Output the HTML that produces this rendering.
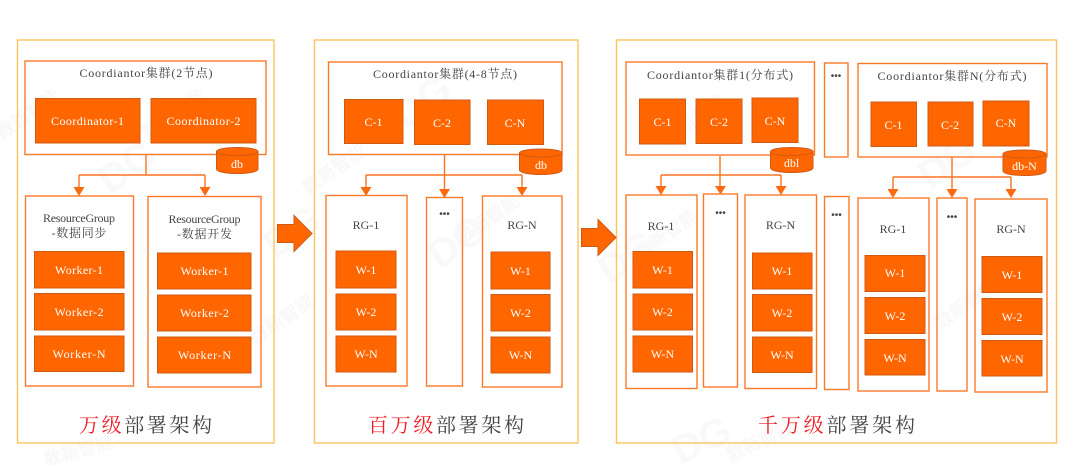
<!DOCTYPE html>
<html lang="zh"><head><meta charset="utf-8"><style>
html,body{margin:0;padding:0;background:#fff;width:1080px;height:466px;overflow:hidden}
svg{display:block}
text{font-family:"Liberation Serif","Noto Serif CJK SC",serif}
.p{fill:none;stroke:#fdc45e;stroke-width:1.4}
.b{fill:none;stroke:#fa7a28;stroke-width:1.4}
.o{fill:#ff6600;stroke:#d05a14;stroke-width:1}
.l{fill:none;stroke:#fa7420;stroke-width:1.4}
.h{fill:#fa6a10}
.t{fill:#444;font-size:12px;text-anchor:middle}
.w{fill:#fff;font-size:12px;text-anchor:middle}
.d{fill:#444;font-size:10px;text-anchor:middle;font-family:"Liberation Sans",sans-serif}
.big{font-size:20px;fill:#444}
.r{fill:#f01c24}
.wm{fill:#f8f8f8;font-size:18px;font-family:"Liberation Sans","Noto Sans CJK SC",sans-serif;font-weight:bold}
.wd{fill:#f9f9f9;font-size:40px;font-family:"Liberation Sans",sans-serif;font-weight:bold}
.cy{fill:#ff6600;stroke:#d05a14;stroke-width:1}
.ar{fill:#ff6600;stroke:#d05a14;stroke-width:1}
</style></head><body>
<svg width="1080" height="466" viewBox="0 0 1080 466" xmlns="http://www.w3.org/2000/svg">
<!-- watermarks -->
<g>
<text class="wm" transform="translate(2,140) rotate(-35)">数新智能</text>
<text class="wm" transform="translate(148,140) rotate(-35)">数新智能</text>
<text class="wm" transform="translate(308,195) rotate(-35)">数新智能</text>
<text class="wm" transform="translate(462,245) rotate(-35)">数新智能</text>
<text class="wm" transform="translate(668,145) rotate(-35)">数新智能</text>
<text class="wm" transform="translate(640,260) rotate(-35)">数新智能</text>
<text class="wm" transform="translate(256,345) rotate(-35)">数新智能</text>
<text class="wm" transform="translate(940,330) rotate(-35)">数新智能</text>
<text class="wm" transform="translate(45,466) rotate(-15)">数新智能</text>
<text class="wm" transform="translate(730,462) rotate(-25)">数新智能</text>
<text class="wd" transform="translate(110,195) rotate(-35)">DG</text>
<text class="wd" transform="translate(275,260) rotate(-35)">DG</text>
<text class="wd" transform="translate(405,130) rotate(-35)">DG</text>
<text class="wd" transform="translate(440,270) rotate(-35)">DG</text>
<text class="wd" transform="translate(610,285) rotate(-35)">DG</text>
<text class="wd" transform="translate(680,465) rotate(-25)">DG</text>
<text class="wd" transform="translate(930,190) rotate(-35)">DG</text>
</g>

<!-- panels -->
<rect class="p" x="17.5" y="40" width="256.5" height="403"/>
<rect class="p" x="314.5" y="40" width="263.5" height="403"/>
<rect class="p" x="616.5" y="40" width="440" height="403"/>

<!-- block arrows -->
<path class="ar" d="M277.5 224.5H294V215.5L312 233.5L294 251.5V242.5H277.5Z"/>
<path class="ar" d="M581.5 228.5H598V219.5L616 237.5L598 255.5V246.5H581.5Z"/>

<!-- Panel 1 -->
<rect class="b" x="25" y="61" width="241" height="93.5"/>
<text class="t" x="146" y="77" textLength="133" lengthAdjust="spacing">Coordiantor集群(2节点)</text>
<rect class="o" x="35.5" y="98.5" width="104.5" height="44.5"/>
<text class="w" x="87.5" y="125" textLength="73">Coordinator-1</text>
<rect class="o" x="151" y="98.5" width="105" height="44.5"/>
<text class="w" x="203.5" y="125" textLength="74">Coordinator-2</text>
<path class="l" d="M146 155V175M79 175H205M79 175V188M205 175V188"/>
<path class="h" d="M73.500 187H84.500L79 196ZM199.500 187H210.500L205 196Z"/>
<path class="cy" d="M216.500 151.500V169C216.500 175 258 175 258 169V151.500Z"/>
<ellipse class="cy" cx="237.250" cy="151.500" rx="20.750" ry="4"/>
<text class="w" x="237" y="168" font-size="11">db</text>
<rect class="b" x="25.500" y="196" width="108" height="190"/>
<rect class="b" x="148" y="196.500" width="113" height="190.500"/>
<text class="t" x="79" y="222" textLength="72">ResourceGroup</text>
<text class="t" x="79" y="237" textLength="55">-数据同步</text>
<text class="t" x="204.500" y="223" textLength="72">ResourceGroup</text>
<text class="t" x="204.500" y="238" textLength="55">-数据开发</text>
<rect class="o" x="34.500" y="251.500" width="89.500" height="36.500"/><text class="w" x="79" y="274" textLength="48">Worker-1</text>
<rect class="o" x="34.500" y="293.500" width="89.500" height="36.500"/><text class="w" x="79" y="316" textLength="49">Worker-2</text>
<rect class="o" x="34.500" y="336" width="89.500" height="35.500"/><text class="w" x="79" y="358" textLength="53">Worker-N</text>
<rect class="o" x="157.500" y="253" width="93.500" height="36"/><text class="w" x="204.500" y="275" textLength="48">Worker-1</text>
<rect class="o" x="157.500" y="295" width="93.500" height="36"/><text class="w" x="204.500" y="317" textLength="49">Worker-2</text>
<rect class="o" x="157.500" y="337" width="93.500" height="36"/><text class="w" x="204.500" y="359" textLength="53">Worker-N</text>
<text class="big" x="79" y="432" textLength="133"><tspan class="r">万级</tspan>部署架构</text>

<!-- Panel 2 -->
<rect class="b" x="328.500" y="62" width="233.500" height="92.500"/>
<text class="t" x="445" y="78" textLength="144">Coordiantor集群(4-8节点)</text>
<rect class="o" x="344.500" y="99.500" width="58.500" height="44"/><text class="w" x="373.500" y="126">C-1</text>
<rect class="o" x="414.500" y="100" width="55.500" height="44.500"/><text class="w" x="442" y="127">C-2</text>
<rect class="o" x="487.500" y="100" width="56" height="44.500"/><text class="w" x="515" y="127">C-N</text>
<path class="l" d="M444.500 155V189M366 175H522M366 175V188M522 175V188"/>
<path class="h" d="M360.500 187H371.500L366 196ZM439 189H450L444.500 198ZM516.500 187H527.500L522 196Z"/>
<path class="cy" d="M519.500 153V170C519.500 176 562 176 562 170V153Z"/>
<ellipse class="cy" cx="540.750" cy="153" rx="21.250" ry="4"/>
<text class="w" x="541" y="169" font-size="11">db</text>
<rect class="b" x="326" y="195.500" width="81" height="190.500"/>
<rect class="b" x="426.500" y="197.500" width="36" height="188.500"/>
<rect class="b" x="482.500" y="196" width="79.500" height="191"/>
<text class="t" x="366" y="229">RG-1</text>
<text class="d" x="444.500" y="217">•••</text>
<text class="t" x="522" y="229">RG-N</text>
<rect class="o" x="336" y="251" width="60" height="37"/><text class="w" x="366" y="274">W-1</text>
<rect class="o" x="336" y="294" width="60" height="36"/><text class="w" x="366" y="316">W-2</text>
<rect class="o" x="336" y="336" width="60" height="36"/><text class="w" x="366" y="358">W-N</text>
<rect class="o" x="491" y="252" width="59" height="37"/><text class="w" x="520.500" y="275">W-1</text>
<rect class="o" x="491" y="294.500" width="59" height="36.500"/><text class="w" x="520.500" y="317">W-2</text>
<rect class="o" x="491" y="337" width="59" height="36"/><text class="w" x="520.500" y="359">W-N</text>
<text class="big" x="368" y="432" textLength="156"><tspan class="r">百万级</tspan>部署架构</text>

<!-- Panel 3 left cluster -->
<rect class="b" x="626" y="62" width="188.500" height="93"/>
<text class="t" x="720" y="79" textLength="146">Coordiantor集群1(分布式)</text>
<rect class="o" x="639.500" y="99" width="46" height="45"/><text class="w" x="662.500" y="126">C-1</text>
<rect class="o" x="696" y="99" width="46" height="44.500"/><text class="w" x="719" y="126">C-2</text>
<rect class="o" x="752" y="98" width="46" height="44.500"/><text class="w" x="775" y="125">C-N</text>
<path class="l" d="M720 156V189M661 175H781M661 175V187M781 175V187"/>
<path class="h" d="M655.500 186H666.500L661 195ZM715 186H726L720.500 194.500ZM775.500 186H786.500L781 195Z"/>
<path class="cy" d="M770.500 151.500V168C770.500 174 813 174 813 168V151.500Z"/>
<ellipse class="cy" cx="791.750" cy="151.500" rx="21.250" ry="4"/>
<text class="w" x="791.500" y="167" font-size="10">dbl</text>

<!-- middle dots -->
<rect class="b" x="824.500" y="63" width="23.500" height="94"/>
<text class="d" x="836" y="79">•••</text>
<rect class="b" x="824.500" y="196.500" width="24.500" height="193"/>
<text class="d" x="836.500" y="218">•••</text>

<!-- Panel 3 right cluster -->
<rect class="b" x="858" y="63.500" width="189" height="93.500"/>
<text class="t" x="952" y="80" textLength="149">Coordiantor集群N(分布式)</text>
<rect class="o" x="871" y="102" width="45.500" height="44.500"/><text class="w" x="893.500" y="129">C-1</text>
<rect class="o" x="928" y="102" width="45" height="44"/><text class="w" x="950" y="129">C-2</text>
<rect class="o" x="983" y="101" width="46" height="45"/><text class="w" x="1006" y="127">C-N</text>
<path class="l" d="M952 157V191M893 177H1011M893 177V190M1011 177V190M952 177"/>
<path class="h" d="M887.500 189H898.500L893 198ZM946.500 189H957.500L952 198ZM1005.500 189H1016.500L1011 198Z"/>
<path class="cy" d="M1003 154V171C1003 177 1046 177 1046 171V154Z"/>
<ellipse class="cy" cx="1024.500" cy="154" rx="21.500" ry="4"/>
<text class="w" x="1024.500" y="170" font-size="10">db-N</text>

<!-- Panel 3 groups -->
<rect class="b" x="626" y="195" width="71" height="193.500"/>
<rect class="b" x="703.500" y="194" width="34" height="193"/>
<rect class="b" x="745" y="195" width="71.500" height="193.500"/>
<rect class="b" x="858" y="198" width="71" height="193"/>
<rect class="b" x="937" y="198" width="30" height="193"/>
<rect class="b" x="975" y="199" width="72" height="193"/>
<text class="t" x="661" y="230">RG-1</text>
<text class="d" x="720.500" y="216">•••</text>
<text class="t" x="780.500" y="229">RG-N</text>
<text class="t" x="893" y="233">RG-1</text>
<text class="d" x="952" y="220">•••</text>
<text class="t" x="1011" y="233">RG-N</text>

<rect class="o" x="633" y="251.500" width="59.500" height="36.500"/><text class="w" x="662.500" y="274">W-1</text>
<rect class="o" x="633" y="294" width="59.500" height="36"/><text class="w" x="662.500" y="316">W-2</text>
<rect class="o" x="633" y="336" width="59.500" height="36"/><text class="w" x="662.500" y="358">W-N</text>
<rect class="o" x="752.500" y="253" width="59.500" height="36"/><text class="w" x="782" y="275">W-1</text>
<rect class="o" x="752.500" y="294.500" width="59.500" height="36.500"/><text class="w" x="782" y="317">W-2</text>
<rect class="o" x="752.500" y="337" width="59.500" height="35.500"/><text class="w" x="782" y="359">W-N</text>
<rect class="o" x="865" y="255.500" width="60" height="36"/><text class="w" x="895" y="277">W-1</text>
<rect class="o" x="865" y="297.500" width="60" height="36"/><text class="w" x="895" y="320">W-2</text>
<rect class="o" x="865" y="339.500" width="60" height="35.500"/><text class="w" x="895" y="362">W-N</text>
<rect class="o" x="982" y="256.500" width="60" height="36"/><text class="w" x="1012" y="279">W-1</text>
<rect class="o" x="982" y="298.500" width="60" height="36"/><text class="w" x="1012" y="321">W-2</text>
<rect class="o" x="982" y="340.500" width="60" height="35.500"/><text class="w" x="1012" y="363">W-N</text>
<text class="big" x="758" y="432" textLength="157"><tspan class="r">千万级</tspan>部署架构</text>
</svg>
</body></html>
